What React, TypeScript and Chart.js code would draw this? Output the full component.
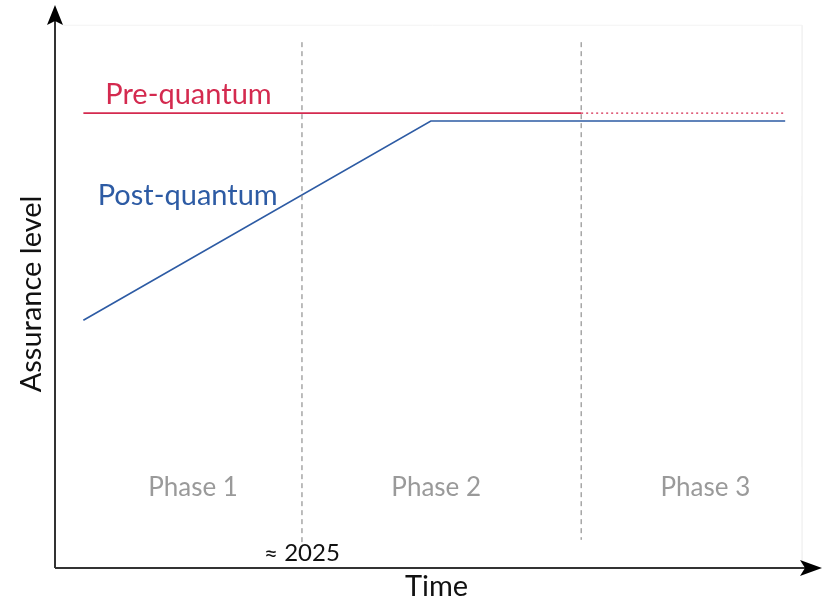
import React, { useEffect, useRef } from "react";
import { Chart, registerables } from "chart.js";

Chart.register(...registerables);

// Data (abstract time 0..100, assurance 0..100)
const preQuantumX = [3.7, 68.6];
const preQuantumY = [80.8, 80.8];
const preQuantumFutureX = [68.6, 95.2];
const preQuantumFutureY = [80.8, 80.8];
const postQuantumX = [3.7, 49.0, 95.2];
const postQuantumY = [44.0, 79.4, 79.4];
const phaseBoundaryX = [32.2, 68.6];
const phaseBoundaryTop = [93.4, 93.4];
const phaseBoundaryBottom = [4.1, 5.0];
const phaseLabels = ["Phase 1", "Phase 2", "Phase 3"];
const phaseCenters = [18.0, 49.7, 84.8];
const milestoneLabel = "≈ 2025";
const seriesLabels = ["Pre-quantum", "Post-quantum"];

const FONT = "Lato, 'Open Sans', sans-serif";
const RED = "#d42a4f";
const BLUE = "#2d5ba4";

const pts = (xs: number[], ys: number[]) => xs.map((x, i) => ({ x, y: ys[i] }));

const overlay = {
  id: "overlay",
  afterDraw(chart: any) {
    const { ctx, chartArea: a, scales } = chart;
    const xs = scales.x, ys = scales.y;
    ctx.save();
    // axes
    ctx.strokeStyle = "#333";
    ctx.fillStyle = "#000";
    ctx.lineWidth = 2;
    ctx.beginPath();
    ctx.moveTo(a.left, a.bottom);
    ctx.lineTo(a.left, a.top + 16);
    ctx.moveTo(a.left, a.bottom);
    ctx.lineTo(a.right - 16, a.bottom);
    ctx.stroke();
    // arrowheads
    ctx.beginPath();
    ctx.moveTo(a.left, a.top);
    ctx.lineTo(a.left - 8, a.top + 20);
    ctx.lineTo(a.left, a.top + 16);
    ctx.lineTo(a.left + 8, a.top + 20);
    ctx.closePath();
    ctx.fill();
    ctx.beginPath();
    ctx.moveTo(a.right, a.bottom);
    ctx.lineTo(a.right - 22, a.bottom - 8);
    ctx.lineTo(a.right - 17, a.bottom);
    ctx.lineTo(a.right - 22, a.bottom + 8);
    ctx.closePath();
    ctx.fill();

    ctx.textAlign = "center";
    ctx.textBaseline = "middle";
    // phase labels
    ctx.font = `26px ${FONT}`;
    ctx.fillStyle = "#9a9a9a";
    phaseLabels.forEach((t, i) => {
      ctx.fillText(t, xs.getPixelForValue(phaseCenters[i]), ys.getPixelForValue(14.2));
    });
    // series labels
    ctx.font = `29px ${FONT}`;
    ctx.fillStyle = RED;
    ctx.fillText(seriesLabels[0], xs.getPixelForValue(17.4), ys.getPixelForValue(84.0));
    ctx.fillStyle = BLUE;
    ctx.fillText(seriesLabels[1], xs.getPixelForValue(17.3), ys.getPixelForValue(66.1));
    // milestone
    ctx.fillStyle = "#111";
    ctx.font = `24px ${FONT}`;
    ctx.fillText(milestoneLabel, xs.getPixelForValue(phaseBoundaryX[0]), ys.getPixelForValue(2.7));
    // axis titles
    ctx.font = `29px ${FONT}`;
    ctx.fillText("Time", (a.left + a.right) / 2 - 2, a.bottom + 19);
    ctx.translate(32, 294);
    ctx.rotate(-Math.PI / 2);
    ctx.fillText("Assurance level", 0, 0);
    ctx.restore();
  },
};

export default function App() {
  const ref = useRef<HTMLCanvasElement>(null);
  useEffect(() => {
    if (!ref.current) return;
    const chart = new Chart(ref.current, {
      type: "line",
      data: {
        datasets: [
          {
            label: "frame",
            data: [{ x: 1, y: 96.4 }, { x: 97.4, y: 96.4 }, { x: 97.4, y: 0 }],
            borderColor: "#f3f3f3",
            borderWidth: 1,
            pointRadius: 0,
          },
          ...phaseBoundaryX.map((x, i) => ({
            label: "boundary" + i,
            data: [{ x, y: phaseBoundaryTop[i] }, { x, y: phaseBoundaryBottom[i] }],
            borderColor: "#7a7a7a",
            borderWidth: 1,
            borderDash: [5, 4],
            pointRadius: 0,
          })),
          {
            label: seriesLabels[0],
            data: pts(preQuantumX, preQuantumY),
            borderColor: RED,
            borderWidth: 1.6,
            pointRadius: 0,
          },
          {
            label: seriesLabels[0] + " (future)",
            data: pts(preQuantumFutureX, preQuantumFutureY),
            borderColor: RED,
            borderWidth: 1.4,
            borderDash: [2, 3],
            pointRadius: 0,
          },
          {
            label: seriesLabels[1],
            data: pts(postQuantumX, postQuantumY),
            borderColor: BLUE,
            borderWidth: 1.6,
            pointRadius: 0,
          },
        ],
      },
      options: {
        animation: false,
        responsive: false,
        maintainAspectRatio: false,
        layout: { padding: { left: 55, right: 11, top: 5, bottom: 33 } },
        scales: {
          x: { type: "linear", min: 0, max: 100, display: false },
          y: { type: "linear", min: 0, max: 100, display: false },
        },
        plugins: { legend: { display: false }, tooltip: { enabled: false } },
      },
      plugins: [overlay],
    });
    return () => chart.destroy();
  }, []);
  return (
    <div style={{ position: "fixed", left: 0, top: 0, width: 833, height: 601, background: "#fff" }}>
      <canvas ref={ref} width={833} height={601} />
    </div>
  );
}
